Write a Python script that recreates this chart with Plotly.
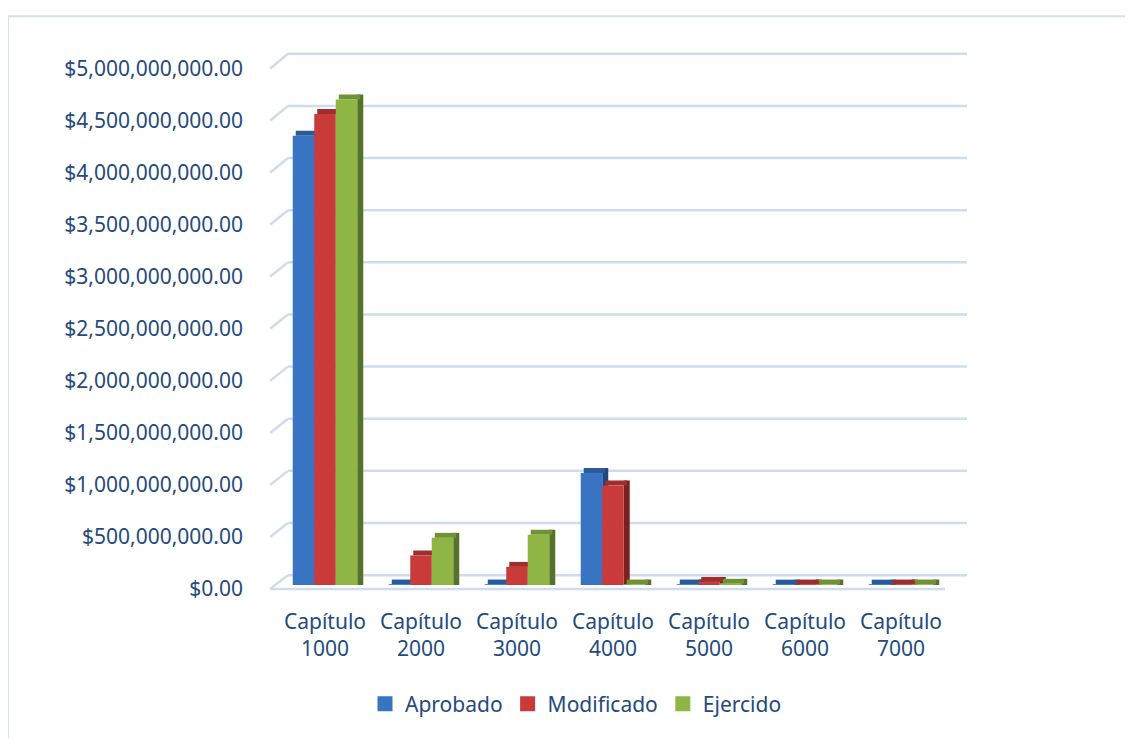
import plotly.graph_objects as go

# ---- data ----
categorias = ["Capítulo<br>1000", "Capítulo<br>2000", "Capítulo<br>3000", "Capítulo<br>4000",
              "Capítulo<br>5000", "Capítulo<br>6000", "Capítulo<br>7000"]
aprobado = [4.33e9, 0.005e9, 0.005e9, 1.08e9, 0.005e9, 0.004e9, 0.004e9]
modificado = [4.54e9, 0.285e9, 0.175e9, 0.96e9, 0.03e9, 0.005e9, 0.005e9]
ejercido = [4.68e9, 0.455e9, 0.485e9, 0.005e9, 0.012e9, 0.005e9, 0.005e9]
tick_vals = [i * 0.5e9 for i in range(11)]

OFF = 8  # browser body margin
W, H = 1133 - OFF, 738 - OFF


def px(x):
    return x - OFF


def py(y):
    return y - OFF


L, R, T, B = px(270), W - px(967), py(30), H - py(589)
pw, ph = W - L - R, H - T - B

TEXT = "#244A7C"
GRID = "#CFDCEE"
FONT = "Noto Sans"


def fx(x):
    return (px(x) - L) / pw


def fy(y):
    return (H - B - py(y)) / ph


ymax = 5e9
x_front = [fx(277), fx(949)]
x_back = [fx(288), 1.0]
y_label = [fy(589), fy(64)]       # front scale (tick labels)
y_bars = [fy(585), fy(585 - 523.5)]  # bar scale (mid depth)
y_back = [fy(575), fy(49)]        # back wall grid

ncat = len(categorias)
u = 1.0 / ((949 - 277) / ncat)     # category units per pixel
bw = 21.5 * u                       # bar width
dx = 6 * u                          # 3D depth (horizontal)
dy = 5 * ymax / 523.5               # 3D depth (vertical, value units)

series = [("Aprobado", aprobado, "#3874C2", "#2B5A98", "#22467A"),
          ("Modificado", modificado, "#C83B3A", "#A02C2C", "#7A2222"),
          ("Ejercido", ejercido, "#8FB545", "#6E9234", "#55712A")]

fig = go.Figure()
for i, (name, vals, col, topc, sidec) in enumerate(series):
    off = -1.5 * bw + i * bw
    # side face
    fig.add_trace(go.Bar(x=categorias, y=[v + dy for v in vals], base=0, offset=off + bw,
                         width=dx, marker_color=sidec, marker_line_width=0,
                         showlegend=False, hoverinfo="skip", xaxis="x", yaxis="y"))
    # top face
    fig.add_trace(go.Bar(x=categorias, y=[dy] * ncat, base=vals, offset=off + dx / 2,
                         width=bw, marker_color=topc, marker_line_width=0,
                         showlegend=False, hoverinfo="skip", xaxis="x", yaxis="y"))
    # front face
    fig.add_trace(go.Bar(x=categorias, y=vals, offset=off, width=bw, name=name,
                         marker_color=col, marker_line_width=0, showlegend=False,
                         xaxis="x", yaxis="y"))

# legend entries
for name, vals, col, topc, sidec in series:
    fig.add_trace(go.Scatter(x=[None], y=[None], mode="markers", name=name,
                             marker=dict(symbol="square", size=15, color=col),
                             xaxis="x", yaxis="y"))

# anchor traces for label axis and back-wall axis
fig.add_trace(go.Scatter(x=[categorias[0]], y=[0], xaxis="x", yaxis="y3", mode="markers",
                         marker=dict(opacity=0), showlegend=False, hoverinfo="skip"))

shapes = []
for v in tick_vals:
    yf = y_label[0] + (y_label[1] - y_label[0]) * v / ymax
    yb = y_back[0] + (y_back[1] - y_back[0]) * v / ymax
    shapes.append(dict(type="line", xref="paper", yref="paper", x0=0, x1=x_back[0],
                       y0=yf, y1=yb, line=dict(color=GRID, width=2.5), layer="below"))
    shapes.append(dict(type="line", xref="paper", yref="paper", x0=x_back[0], x1=1,
                       y0=yb, y1=yb, line=dict(color=GRID, width=2.5), layer="below"))
shapes.append(dict(type="line", xref="paper", yref="paper", x0=0, x1=fx(945),
                   y0=y_label[0], y1=y_label[0], line=dict(color=GRID, width=2.5), layer="below"))
shapes.append(dict(type="rect", xref="paper", yref="paper",
                   x0=fx(8), x1=fx(1160), y0=fy(760), y1=fy(11),
                   line=dict(color="#D3E0F2", width=2), layer="below"))

fig.update_layout(
    width=W, height=H,
    margin=dict(l=L, r=R, t=T, b=B),
    paper_bgcolor="white", plot_bgcolor="rgba(0,0,0,0)",
    barmode="overlay",
    font=dict(family=FONT, size=21, color=TEXT),
    xaxis=dict(domain=x_front, anchor="y3", showgrid=False, showline=False, zeroline=False,
               ticks="", tickfont=dict(size=21, color=TEXT), ticklabelstandoff=18,
               range=[-0.5, ncat - 0.5]),
    yaxis=dict(domain=y_bars, anchor="free", position=0, range=[0, ymax], visible=False),
    yaxis3=dict(domain=y_label, anchor="x", range=[0, ymax], tickvals=tick_vals,
                tickformat="$,.2f", showgrid=False, zeroline=False,
                showline=False, ticks="", ticklabelstandoff=33,
                tickfont=dict(size=21, color=TEXT)),
    legend=dict(orientation="h", xref="container", yref="container",
                x=(576 - OFF) / W, y=(H - py(704)) / H,
                xanchor="center", yanchor="middle", font=dict(size=21, color=TEXT),
                itemwidth=30, tracegroupgap=0),
    shapes=shapes,
    showlegend=True,
)

fig.write_html("out.html")
